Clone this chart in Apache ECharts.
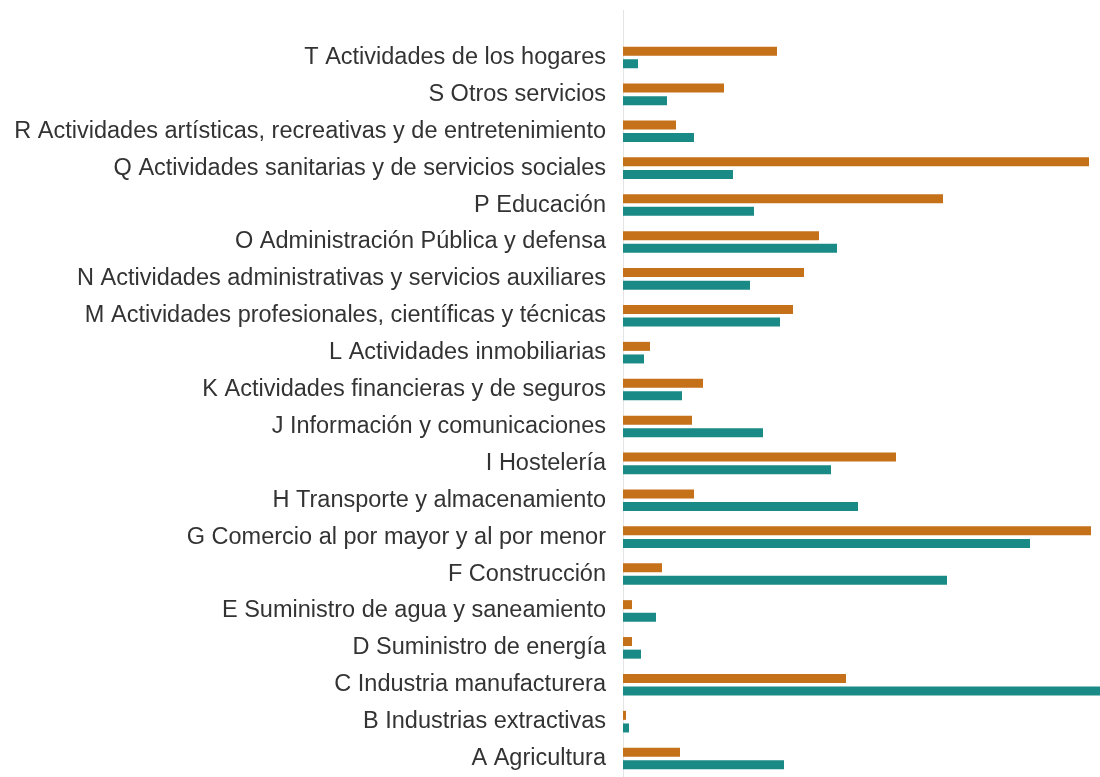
<!DOCTYPE html>
<html>
<head>
<meta charset="utf-8">
<script src="https://cdn.jsdelivr.net/npm/echarts@6/dist/echarts.min.js"></script>
<style>
html,body{margin:0;padding:0;background:#fff;}
#chart{width:1100px;height:777px;}
</style>
</head>
<body>
<div id="chart"></div>
<script>
const categories = [
  "A Agricultura",
  "B Industrias extractivas",
  "C Industria manufacturera",
  "D Suministro de energía",
  "E Suministro de agua y saneamiento",
  "F Construcción",
  "G Comercio al por mayor y al por menor",
  "H Transporte y almacenamiento",
  "I Hostelería",
  "J Información y comunicaciones",
  "K Actividades financieras y de seguros",
  "L Actividades inmobiliarias",
  "M Actividades profesionales, científicas y técnicas",
  "N Actividades administrativas y servicios auxiliares",
  "O Administración Pública y defensa",
  "P Educación",
  "Q Actividades sanitarias y de servicios sociales",
  "R Actividades artísticas, recreativas y de entretenimiento",
  "S Otros servicios",
  "T Actividades de los hogares"
];
const seriesOrange = [57, 3, 223, 9, 9, 39, 468, 71, 273, 69, 80, 27, 170, 181, 196, 320, 466, 53, 101, 154];
const seriesTeal   = [161, 6, 520, 18, 33, 324, 407, 235, 208, 140, 59, 21, 157, 127, 214, 131, 110, 71, 44, 15];
const axisMax = 477;

const chart = echarts.init(document.getElementById('chart'), null, {renderer: 'canvas'});
chart.setOption({
  animation: false,
  backgroundColor: '#ffffff',
  grid: {left: 623, right: 0, top: 39, bottom: -6, containLabel: false},
  xAxis: {type: 'value', min: 0, max: axisMax, show: false},
  yAxis: {
    type: 'category',
    data: categories,
    axisLine: {show: true, lineStyle: {color: '#e4e4e4', width: 1}},
    axisTick: {show: false},
    splitLine: {show: false},
    axisLabel: {
      margin: 17,
      fontSize: 23.5,
      color: '#333333',
      fontFamily: "'Liberation Sans', Arial, sans-serif",
      interval: 0
    }
  },
  graphic: [{
    type: 'line',
    shape: {x1: 623.5, y1: 10, x2: 623.5, y2: 39},
    style: {stroke: '#e4e4e4', lineWidth: 1},
    silent: true
  }],
  series: [
    {
      name: 'Mujeres',
      type: 'bar',
      data: seriesOrange,
      barWidth: 9,
      barGap: '40%',
      itemStyle: {color: '#C5711A'},
      clip: true
    },
    {
      name: 'Hombres',
      type: 'bar',
      data: seriesTeal,
      barWidth: 9,
      barGap: '40%',
      itemStyle: {color: '#1A8A86'},
      clip: true
    }
  ]
});
</script>
</body>
</html>
